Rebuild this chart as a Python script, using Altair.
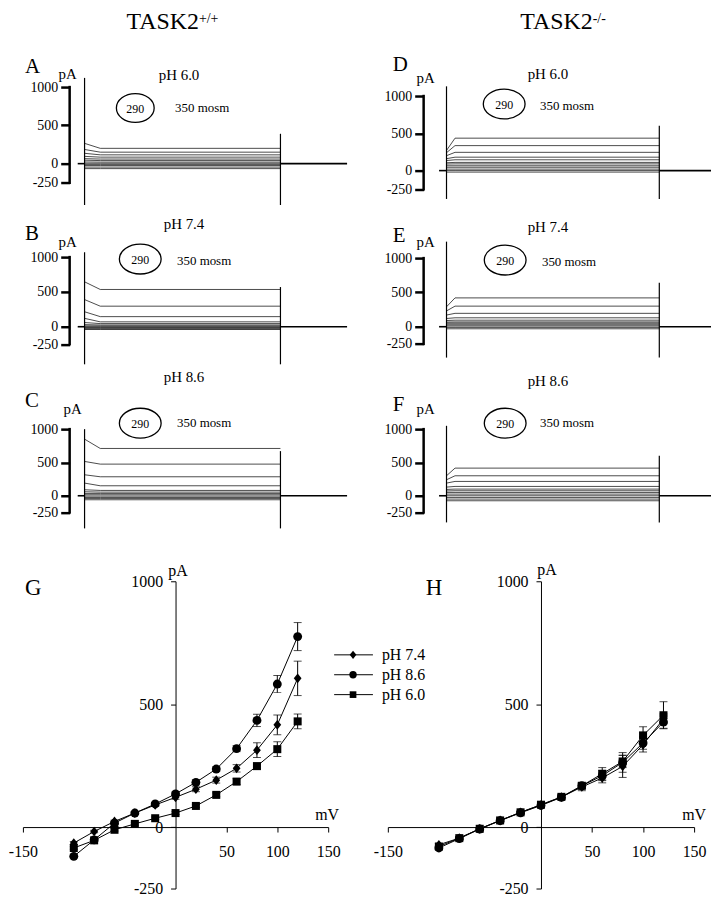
import altair as alt
import pandas as pd

FONT = "Liberation Serif"

# ---------------- data ----------------
voltages = [-100, -80, -60, -40, -20, 0, 20, 40, 60, 80, 100, 120]   # mV
series = ["pH 7.4", "pH 8.6", "pH 6.0"]

# G : TASK2+/+  steady-state current (pA)
g_ph74 = [-65, -18, 23, 57, 90, 121, 154, 191, 239, 313, 416, 605]
g_ph86 = [-119, -52, 16, 57, 94, 135, 182, 236, 319, 434, 582, 775]
g_ph60 = [-85, -54, -11, 13, 36, 57, 86, 131, 185, 248, 317, 430]
g_err74 = [6, 5, 5, 5, 6, 8, 10, 12, 15, 30, 40, 70]
g_err86 = [6, 5, 5, 5, 6, 8, 10, 10, 12, 25, 35, 57]
g_err60 = [5, 5, 5, 5, 5, 6, 6, 8, 12, 12, 30, 30]

# H : TASK2-/-
h_ph74 = [-72, -45, -7, 27, 60, 90, 122, 163, 200, 247, 335, 440]
h_ph86 = [-85, -47, -8, 26, 58, 88, 121, 168, 209, 263, 342, 427]
h_ph60 = [-79, -45, -7, 27, 60, 91, 123, 168, 217, 267, 373, 455]
h_err74 = [5, 5, 5, 5, 5, 6, 8, 15, 20, 45, 30, 20]
h_err86 = [5, 5, 5, 5, 5, 6, 8, 12, 20, 40, 25, 25]
h_err60 = [5, 5, 5, 5, 5, 6, 8, 10, 25, 25, 35, 55]

# current traces (one per voltage step, top to bottom): onset and steady level, pA
a_onset = [265, 185, 135, 95, 65, 45, 22, 5, -10, -25, -45, -65]
a_steady = [200, 150, 115, 85, 60, 40, 20, 5, -10, -25, -45, -65]
b_onset = [645, 390, 215, 120, 60, 30, 12, 0, -10, -20, -30, -40]
b_steady = [535, 295, 145, 70, 45, 25, 12, 0, -10, -20, -30, -40]
c_onset = [850, 515, 315, 190, 90, 60, 35, 15, -5, -25, -40, -60]
c_steady = [710, 475, 285, 150, 80, 55, 35, 15, -5, -25, -40, -60]
d_onset = [270, 240, 200, 160, 135, 105, 88, 65, 45, 20, 0, -20]
d_steady = [435, 335, 245, 180, 145, 110, 90, 65, 45, 20, 0, -20]
e_onset = [290, 230, 170, 120, 90, 68, 55, 40, 25, 10, -10, -30]
e_steady = [420, 300, 195, 130, 95, 70, 55, 40, 25, 10, -10, -30]
f_onset = [300, 240, 190, 130, 95, 72, 50, 25, 0, -25, -50, -75]
f_steady = [415, 300, 215, 140, 100, 75, 50, 25, 0, -25, -50, -75]

# capacitive transients: [top at pulse on, top at pulse off, bottom] (pA)
a_spikes = [1120, 390, -540]
b_spikes = [1070, 570, -540]
c_spikes = [1000, 670, -490]
d_spikes = [1130, 600, -380]
e_spikes = [1240, 640, -450]
f_spikes = [1050, 600, -400]

scale_ticks = [-250, 0, 500, 1000]
T_PULSE = 1000       # ms
HOLD_PRE = -35       # ms

# ---------------- layout ----------------
ROW_H = [155, 170, 208, 309]
LEFT = dict(W=326, ps=62, pe=259, bar=47)
RIGHT = dict(W=325, ps=59, pe=273, bar=36)
DIAMOND = "M0,-1L0.8,0L0,1L-0.8,0Z"


def txt(s, x, y, size, align="left", baseline="alphabetic"):
    return alt.Chart(pd.DataFrame({"a": [0]})).mark_text(
        text=s, font=FONT, fontSize=size, color="black", align=align, baseline=baseline
    ).encode(x=alt.value(x), y=alt.value(y))


def trace_panel(letter, ph, onset, steady, spikes, side, H, z, ppa, settle, ann, title=None):
    W, ps, pe, bar = side["W"], side["ps"], side["pe"], side["bar"]
    k = (pe - ps) / T_PULSE
    t0, t1 = -ps / k, (W - ps) / k
    tbar = (bar - ps) / k
    ydom = [-(H - z) / ppa, z / ppa]
    xenc = alt.X("t:Q", scale=alt.Scale(domain=[t0, t1], nice=False, zero=False), axis=None)
    yax = alt.Axis(values=scale_ticks, domain=False, grid=False, tickSize=9, tickWidth=2.5,
                   tickColor="black", labelFont=FONT, labelFontSize=14, labelColor="black",
                   labelPadding=3, offset=-bar, title=None, labelOverlap=False,
                   labelExpr="'' + datum.value")
    yenc = alt.Y("i:Q", scale=alt.Scale(domain=ydom, nice=False, zero=False), axis=yax)

    rows = []
    for n, (a, b) in enumerate(zip(onset, steady)):
        rows += [dict(trace=n, t=0, i=a), dict(trace=n, t=settle, i=b), dict(trace=n, t=T_PULSE, i=b)]
    traces = alt.Chart(pd.DataFrame(rows)).mark_line(color="#1e1e1e", strokeWidth=0.8).encode(
        x=xenc, y=yenc, detail="trace:N")

    hold = alt.Chart(pd.DataFrame({"t": [HOLD_PRE, T_PULSE], "t2": [0, t1], "i": [0, 0]})).mark_rule(
        color="black", strokeWidth=1.6).encode(x=xenc, x2="t2:Q", y=yenc)

    sp = alt.Chart(pd.DataFrame({"t": [0, T_PULSE], "i": [spikes[2], spikes[2]],
                                 "i2": [spikes[0], spikes[1]]})).mark_rule(
        color="black", strokeWidth=1.2).encode(x=xenc, y=yenc, y2="i2:Q")

    sbar = alt.Chart(pd.DataFrame({"t": [tbar], "i": [scale_ticks[0]], "i2": [scale_ticks[-1]]})).mark_rule(
        color="black", strokeWidth=2.5, strokeCap="square").encode(x=xenc, y=yenc, y2="i2:Q")

    ew, eh = ann.get("ell", (42, 30))
    ell = alt.Chart(pd.DataFrame({"a": [0]})).mark_point(
        shape="M-1,0A1,%.3f,0,1,1,1,0A1,%.3f,0,1,1,-1,0Z" % (eh / ew, eh / ew),
        size=ew * ew, filled=False, stroke="black", strokeWidth=1.3, opacity=1
    ).encode(x=alt.value(ann["e"][0]), y=alt.value(ann["e"][1]))

    layers = [traces, hold, sp, sbar, ell,
              txt(letter, ann["L"][0], ann["L"][1], 21),
              txt("pA", ann["pA"][0], ann["pA"][1], 15, align="center"),
              txt(ph, ann["ph"][0], ann["ph"][1], 15, align="center"),
              txt("290", ann["e"][0], ann["e"][1] + 1, 12, align="center", baseline="middle"),
              txt("350 mosm", ann["m"][0], ann["m"][1], 13, baseline="middle")]
    if title is not None:
        main, sup, tx = title
        layers += [txt(main, tx, -22, 24, align="right"), txt(sup, tx, -28, 14)]
    return alt.layer(*layers).properties(width=W, height=H)


def iv_panel(letter, means, errs, W, H, ann, legend=False):
    xenc = alt.X("V:Q", scale=alt.Scale(domain=[-150, 150], nice=False, zero=False),
                 axis=alt.Axis(values=[-150, 50, 100, 150], offset=-H * 250 / 1250, tickSize=5,
                               labelPadding=12, grid=False, title=None, domainColor="black",
                               tickColor="black", labelColor="black", labelFont=FONT,
                               labelFontSize=16, labelFlush=False, labelExpr="'' + datum.value"))
    yenc = alt.Y("I:Q", scale=alt.Scale(domain=[-250, 1000], nice=False, zero=False),
                 axis=alt.Axis(values=scale_ticks, offset=-W / 2, tickSize=5, labelPadding=8,
                               grid=False, title=None, domainColor="black", tickColor="black",
                               labelColor="black", labelFont=FONT, labelFontSize=16,
                               labelFlush=False, labelExpr="'' + datum.value"))
    shapes = [DIAMOND, "circle", "square"]
    sizes = [95, 80, 65]
    lines, bars, pts = [], [], []
    for s, m, e, shp, sz in zip(series, means, errs, shapes, sizes):
        df = pd.DataFrame({"V": voltages, "I": m,
                           "lo": [a - b for a, b in zip(m, e)], "hi": [a + b for a, b in zip(m, e)]})
        base = alt.Chart(df)
        lines.append(base.mark_line(color="black", strokeWidth=1).encode(x=xenc, y=yenc))
        bars.append(base.mark_errorbar(ticks=True, color="black", size=8, thickness=1).encode(
            x=xenc, y=alt.Y("lo:Q", scale=alt.Scale(domain=[-250, 1000], nice=False, zero=False), title=None),
            y2="hi:Q"))
        pts.append(base.mark_point(shape=shp, size=sz, filled=True, color="black", opacity=1).encode(
            x=xenc, y=yenc))
    layers = lines + bars + pts + [
        txt(letter, ann["L"][0], ann["L"][1], 23),
        txt("pA", ann["pA"][0], ann["pA"][1], 16, align="center"),
        txt("mV", ann["mV"][0], ann["mV"][1], 16, align="center"),
    ]
    if legend:
        lx0, lx1, lxm, ltx, ly = 313, 352, 332, 361, [74, 94, 114]
        lshapes = [DIAMOND, "circle", "square"]
        lsizes = [70, 55, 45]
        for s, y, shp, sz in zip(series, ly, lshapes, lsizes):
            one = pd.DataFrame({"s": [s]})
            layers.append(alt.Chart(one).mark_rule(color="black", strokeWidth=1).encode(
                x=alt.value(lx0), x2=alt.value(lx1), y=alt.value(y)))
            layers.append(alt.Chart(one).mark_point(shape=shp, size=sz, filled=True, color="black",
                                                     opacity=1).encode(x=alt.value(lxm), y=alt.value(y)))
            layers.append(alt.Chart(one).mark_text(font=FONT, fontSize=16, color="black", align="left",
                                                    baseline="middle").encode(
                x=alt.value(ltx), y=alt.value(y), text="s:N"))
    return alt.layer(*layers).properties(width=W, height=H)


A = trace_panel("A", "pH 6.0", a_onset, a_steady, a_spikes, LEFT, ROW_H[0], 113, 0.077, 80,
                dict(L=(2, 22), pA=(45, 28), ph=(157, 29), e=(113, 57), m=(153, 57), ell=(38, 29)),
                title=("TASK2", "+/+", 177))
D = trace_panel("D", "pH 6.0", d_onset, d_steady, d_spikes, RIGHT, ROW_H[0], 120, 0.075, 40,
                dict(L=(5, 20), pA=(38, 32), ph=(161, 28), e=(117, 53), m=(153, 55)),
                title=("TASK2", "-/-", 206))
B = trace_panel("B", "pH 7.4", b_onset, b_steady, b_spikes, LEFT, ROW_H[1], 122, 0.070, 80,
                dict(L=(2, 35), pA=(45, 42), ph=(162, 24), e=(118, 54), m=(155, 56)))
E = trace_panel("E", "pH 7.4", e_onset, e_steady, e_spikes, RIGHT, ROW_H[1], 122, 0.069, 40,
                dict(L=(5, 37), pA=(38, 42), ph=(161, 27), e=(118, 55), m=(155, 57)))
C = trace_panel("C", "pH 8.6", c_onset, c_steady, c_spikes, LEFT, ROW_H[2], 122, 0.067, 80,
                dict(L=(2, 33), pA=(50, 40), ph=(162, 8), e=(118, 49), m=(155, 49)))
F = trace_panel("F", "pH 8.6", f_onset, f_steady, f_spikes, RIGHT, ROW_H[2], 122, 0.067, 40,
                dict(L=(5, 37), pA=(38, 40), ph=(161, 12), e=(118, 49), m=(153, 49)))
G = iv_panel("G", [g_ph74, g_ph86, g_ph60], [g_err74, g_err86, g_err60], 307, ROW_H[3],
             dict(L=(2, 14), pA=(156, -5), mV=(306, 240)), legend=True)
Hh = iv_panel("H", [h_ph74, h_ph86, h_ph60], [h_err74, h_err86, h_err60], 308, ROW_H[3],
              dict(L=(38, 14), pA=(160, -6), mV=(308, 240)))

chart = alt.concat(A, D, B, E, C, F, G, Hh, columns=2, bounds="flush",
                   spacing={"row": 0, "column": 41}).properties(
    padding=0, background="white"
).configure_view(stroke=None)

chart.save("out.html", embed_options={"renderer": "svg", "actions": False})
